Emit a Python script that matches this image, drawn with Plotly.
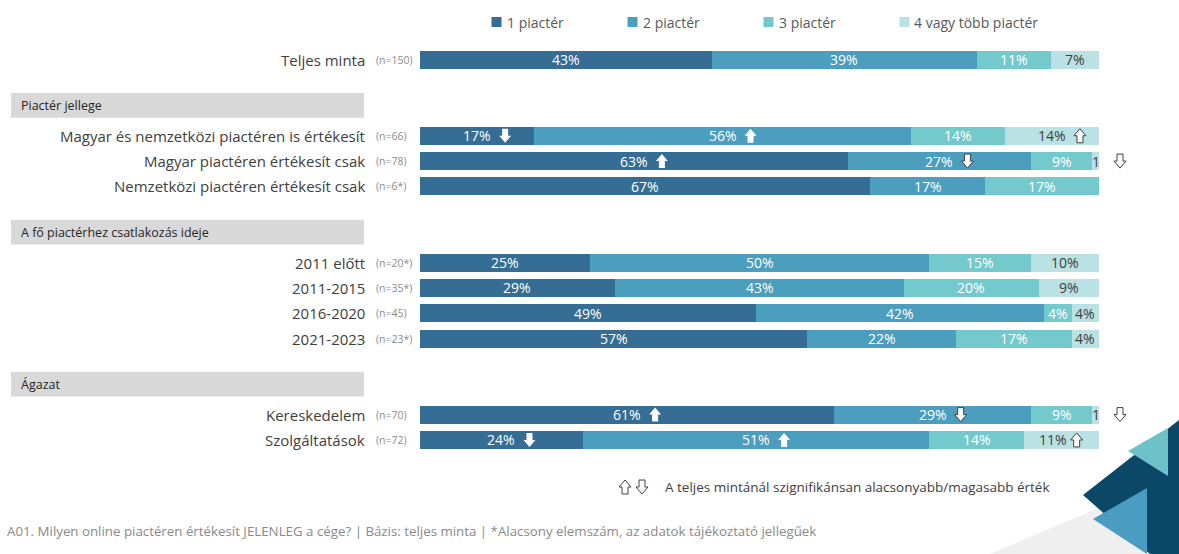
import plotly.graph_objects as go

# ---- data -------------------------------------------------------------
categories = [
    "Teljes minta",
    "Magyar és nemzetközi piactéren is értékesít",
    "Magyar piactéren értékesít csak",
    "Nemzetközi piactéren értékesít csak",
    "2011 előtt",
    "2011-2015",
    "2016-2020",
    "2021-2023",
    "Kereskedelem",
    "Szolgáltatások",
]
sample_sizes = ["(n=150)", "(n=66)", "(n=78)", "(n=6*)", "(n=20*)", "(n=35*)",
                "(n=45)", "(n=23*)", "(n=70)", "(n=72)"]

series_names = ["1 piactér", "2 piactér", "3 piactér", "4 vagy több piactér"]
one_market = [43, 17, 63, 67, 25, 29, 49, 57, 61, 24]
two_markets = [39, 56, 27, 17, 50, 43, 42, 22, 29, 51]
three_markets = [11, 14, 9, 17, 15, 20, 4, 17, 9, 14]
four_plus_markets = [7, 14, 1, 0, 10, 9, 4, 4, 1, 11]

# significance versus the total sample (per series, per row)
sig_one = [None, "down", "up", None, None, None, None, None, "up", "down"]
sig_two = [None, "up", "down", None, None, None, None, None, "down", "up"]
sig_three = [None] * 10
sig_four = [None, "up", "down", None, None, None, None, None, "down", "up"]

section_titles = ["Piactér jellege", "A fő piactérhez csatlakozás ideje", "Ágazat"]
section_sizes = [3, 4, 2]

footer_text = ("A01. Milyen online piactéren értékesít JELENLEG a cége? | Bázis: teljes minta | "
               "*Alacsony elemszám, az adatok tájékoztató jellegűek")
note_text = "A teljes mintánál szignifikánsan alacsonyabb/magasabb érték"

# ---- styling ----------------------------------------------------------
W, H = 1179, 554
FONT = "Open Sans, Segoe UI, DejaVu Sans, sans-serif"
colors = ["#356d94", "#4b9ebd", "#74c9cd", "#bae1e3"]
label_colors = ["white", "white", "white", "#404040"]
DARK = "#404040"
X0_PX, X1_PX = 420, 1099
BAR_W = 0.71
PITCH = 25.35
TOP_ROW_PX = 59.7

# row slots: total row, then each section separated by a blank slot and a header slot
slots = [0]
pos = 0
section_first_slot = []
for size in section_sizes:
    pos += 3
    section_first_slot.append(pos)
    for k in range(size):
        slots.append(pos + k)
    pos += size - 1

series = [one_market, two_markets, three_markets, four_plus_markets]
sigs = [sig_one, sig_two, sig_three, sig_four]

fig = go.Figure()
for name, vals, col in zip(series_names, series, colors):
    fig.add_trace(go.Bar(
        y=slots, x=vals, name=name, orientation="h",
        marker=dict(color=col, line=dict(width=0)),
        width=BAR_W, hoverinfo="skip", showlegend=False,
    ))

annotations = []
shapes = []


def arrow_path(direction, dx):
    s = 1 if direction == "up" else -1
    pts = [(0, 7), (6, 0), (3, 0), (3, -7), (-3, -7), (-3, 0), (-6, 0)]
    return "M" + " L".join(f"{x + dx},{y * s}" for x, y in pts) + " Z"


def add_arrow(xref, x, yref, y, direction, dx, outlined):
    shapes.append(dict(
        type="path", xref=xref, yref=yref, xsizemode="pixel", ysizemode="pixel",
        xanchor=x, yanchor=y, path=arrow_path(direction, dx),
        fillcolor="white",
        line=dict(color=DARK if outlined else "white", width=1 if outlined else 0),
        layer="above",
    ))


def slot_to_paper(slot):
    return 1 - (TOP_ROW_PX + slot * PITCH) / H


px_per_unit = (X1_PX - X0_PX) / 100.0

for i, slot in enumerate(slots):
    vals = [s[i] for s in series]
    total = sum(vals)
    cum = 0.0
    for j, v in enumerate(vals):
        if v == 0:
            continue
        share = v / total * 100
        mid = cum + share / 2
        seg_px = share * px_per_unit
        sig = sigs[j][i]
        text_shift = 0
        if sig is not None:
            outlined = (j == 3) or (j == 1 and sig == "down")
            if v <= 2:
                # marker sits just past the bar end
                add_arrow("paper", X1_PX / W, "paper", slot_to_paper(slot), sig, 21, True)
            elif seg_px < 90:
                text_shift = -9
                add_arrow("x", mid, "y", slot, sig, 15, outlined)
            else:
                add_arrow("x", mid, "y", slot, sig, 28, outlined)
        annotations.append(dict(
            x=mid, y=slot, xref="x", yref="y", text=f"{v}%" if v > 2 else f"{v}",
            showarrow=False, xshift=text_shift, xanchor="center", yanchor="middle",
            font=dict(family=FONT, size=14, color=label_colors[j]),
        ))
        cum += share

    # category and sample size labels
    annotations.append(dict(
        x=367 / W, y=slot, xref="paper", yref="y", text=categories[i],
        xanchor="right", yanchor="middle", showarrow=False,
        font=dict(family=FONT, size=15, color=DARK),
    ))
    annotations.append(dict(
        x=374 / W, y=slot, xref="paper", yref="y", text=sample_sizes[i],
        xanchor="left", yanchor="middle", showarrow=False,
        font=dict(family=FONT, size=10.5, color="#8c8c8c"),
    ))

# section header boxes
for title, first in zip(section_titles, section_first_slot):
    yc = first - 1.2
    shapes.append(dict(
        type="rect", xref="paper", yref="y", x0=11 / W, x1=364 / W,
        y0=yc - 0.49, y1=yc + 0.49, fillcolor="#d9d9d9", line=dict(width=0), layer="below",
    ))
    annotations.append(dict(
        x=19 / W, y=yc, xref="paper", yref="y", text=title, xanchor="left", yanchor="middle",
        showarrow=False, font=dict(family=FONT, size=12.5, color="#262626"),
    ))

# series key along the top
LEG_Y = 22
for k, (name, col) in enumerate(zip(series_names, colors)):
    sx = 491.5 + 136 * k
    shapes.append(dict(
        type="rect", xref="paper", yref="paper",
        x0=sx / W, x1=(sx + 10) / W, y0=1 - (LEG_Y + 5) / H, y1=1 - (LEG_Y - 5) / H,
        fillcolor=col, line=dict(width=0),
    ))
    annotations.append(dict(
        x=(sx + 13) / W, y=1 - LEG_Y / H, xref="paper", yref="paper", text=name,
        xanchor="left", yanchor="middle", showarrow=False,
        font=dict(family=FONT, size=14, color="#595959"),
    ))

# significance note
note_y = 1 - 487 / H
add_arrow("paper", 625 / W, "paper", note_y, "up", 0, True)
add_arrow("paper", 642 / W, "paper", note_y, "down", 0, True)
annotations.append(dict(
    x=663 / W, y=note_y, xref="paper", yref="paper", text=note_text,
    xanchor="left", yanchor="middle",
    showarrow=False, font=dict(family=FONT, size=13.5, color=DARK),
))

# footer
annotations.append(dict(
    x=5 / W, y=1 - 531 / H, xref="paper", yref="paper", text=footer_text,
    xanchor="left", yanchor="middle",
    showarrow=False, font=dict(family=FONT, size=13.3, color="#8a8a8a"),
))


# corner decoration
def poly(points, color):
    path = "M" + " L".join(f"{x / W},{1 - y / H}" for x, y in points) + " Z"
    shapes.append(dict(type="path", xref="paper", yref="paper", path=path,
                       fillcolor=color, line=dict(width=0), layer="below"))


poly([(990, 554), (1179, 474), (1179, 554)], "#efefef")
poly([(1083, 495), (1179, 420), (1179, 554), (1150, 554)], "#0b4868")
poly([(1128, 451), (1168, 428), (1168, 476)], "#6cc2c8")
poly([(1093, 519), (1147, 488), (1147, 554)], "#4a9cc0")

y_top = -TOP_ROW_PX / PITCH
y_bottom = (H - TOP_ROW_PX) / PITCH

fig.update_layout(
    width=W, height=H,
    margin=dict(l=0, r=0, t=0, b=0, autoexpand=False),
    paper_bgcolor="white", plot_bgcolor="white",
    barmode="stack", barnorm="percent",
    font=dict(family=FONT, color=DARK),
    xaxis=dict(domain=[X0_PX / W, X1_PX / W], range=[0, 100], visible=False, fixedrange=True),
    yaxis=dict(range=[y_bottom, y_top], visible=False, fixedrange=True),
    showlegend=False,
    annotations=annotations,
    shapes=shapes,
)

fig.write_html("out.html")
